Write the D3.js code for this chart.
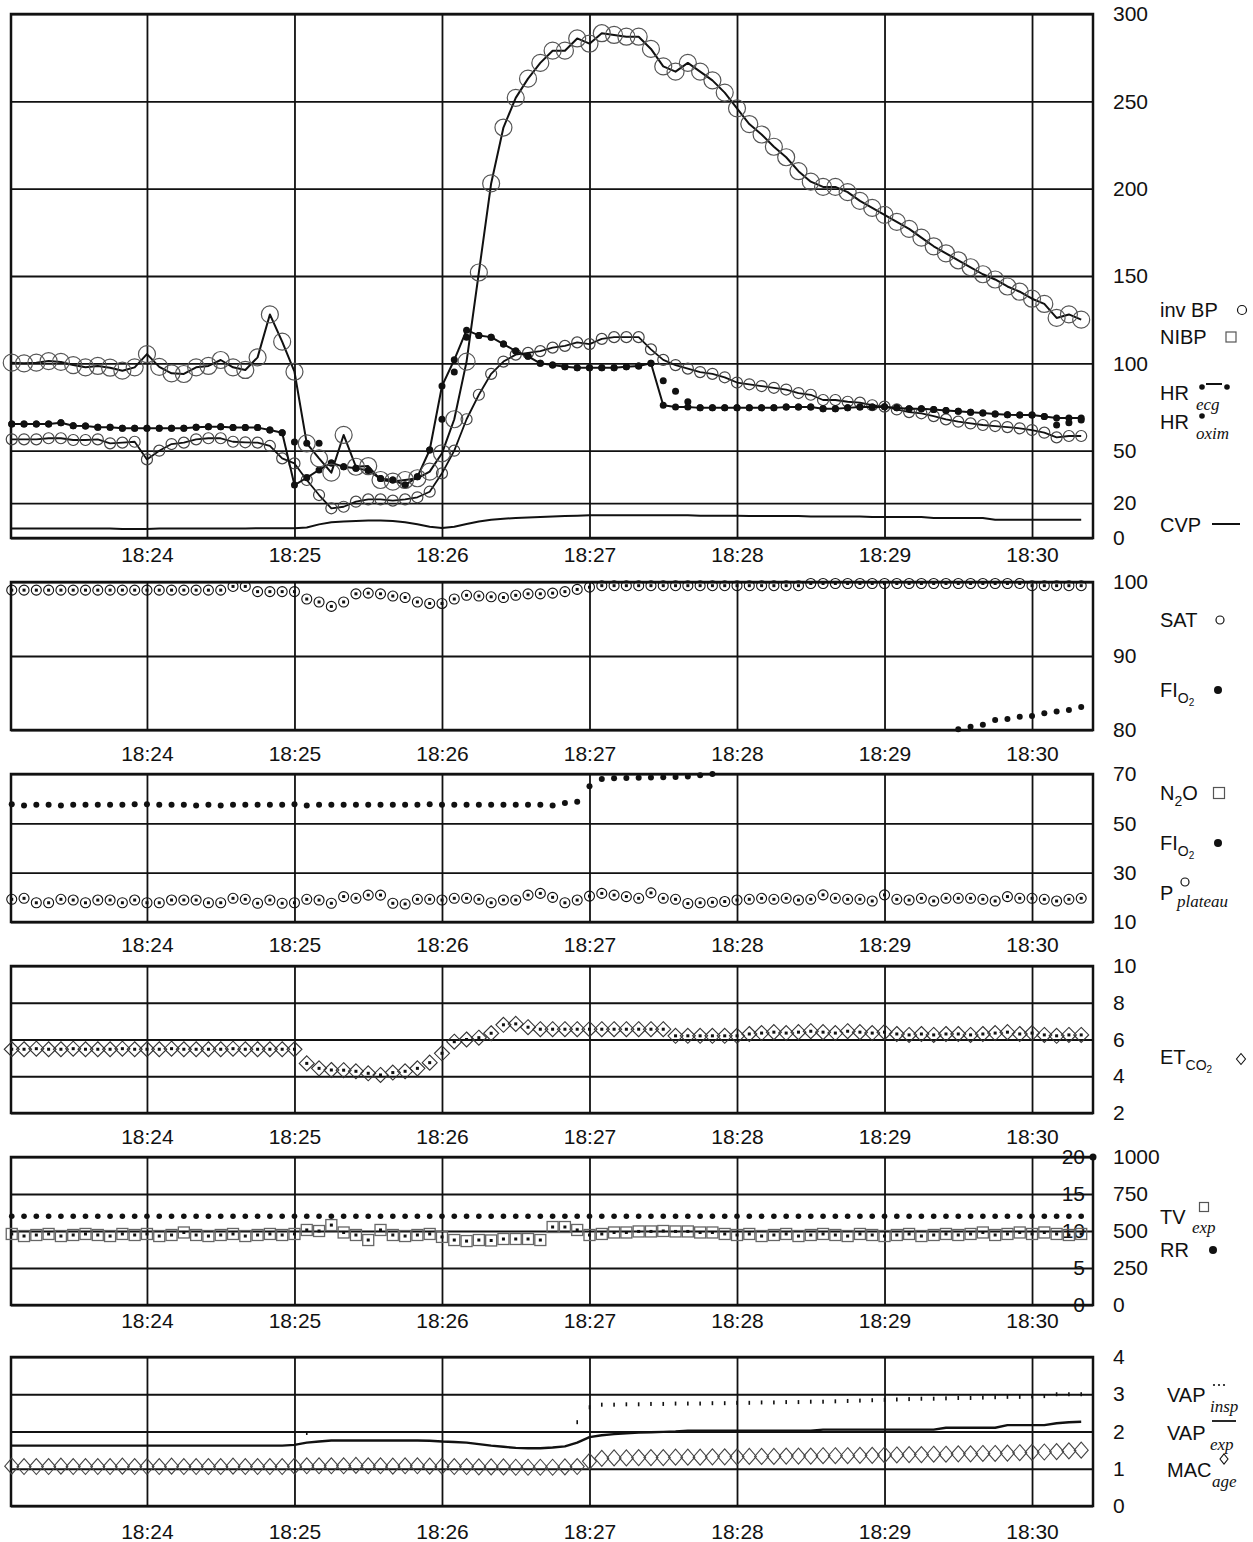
<!DOCTYPE html>
<html>
<head>
<meta charset="utf-8">
<script src="https://cdn.jsdelivr.net/npm/d3@7"></script>
<style>
  body { margin: 0; background: #fff; }
</style>
</head>
<body>
<svg id="chart" width="1253" height="1542"></svg>
<script>
// samples every 5 s, first one at 18:23:05 (time = seconds after 18:23:00)
var minuteTicks = [60, 120, 180, 240, 300, 360, 420];
var minuteLabels = ["18:24", "18:25", "18:26", "18:27", "18:28", "18:29", "18:30"];

// panel 1
var invBP = [100.4,100,100.4,101.3,100.8,99,97.7,98.5,97.5,95.8,
  97.7,105.3,98,94.3,93.9,97.7,98.5,101.9,97.7,96.2,
  103.4,128,112.4,95.2,54.2,45.6,37.4,59,40.8,41.2,
  33.2,32.3,33.2,34.2,38,48.5,68,101,152,203,
  235,252,263,272,279,279,286,283,289,288,
  287,287,280,270,267,272,267,262,255,246,
  237,231,224,218,210,204,201,201,198,193,
  189,185,181,177,172,167,163,159,155,151,
  148,144,141,137,134,126,128,125];
var invBPdia = [56.5,56.5,56.5,57.1,57.1,56.1,56.1,56.5,54.2,54.6,
  55.1,45,50,53.8,54.6,56.5,57.1,57.1,55.1,54.8,
  54.6,52.7,45.6,42.7,33.2,24.6,17,17.9,20.8,22.1,
  22.1,21.4,22.1,23.3,26.5,37,50,68,82,94,
  101,105,106,107,109,110,112,111,114,115,
  115,115,108,102,99,97,95,94,92,89,
  88,87,86,85,83,82,79,79,78,77.5,
  76,75.2,73.6,72.1,71.4,69.8,67.9,66.6,65.6,64.7,
  64.1,63.5,62.8,61.8,60.3,57.6,58.4,58.4];
var hrEcg = [65.3,65.3,65.3,65.3,66,64.3,64.1,63.4,63.4,62.8,
  62.8,62.8,62.8,62.8,62.8,63.4,63.7,63.7,63.2,63.2,
  63.2,61.8,60.3,30.3,34.5,39,43,40.8,40,38.7,
  34,33.2,30.3,35,50.4,87,102,119,116,115,
  111,107,104,100,99,98,97.5,97.5,97.5,97.5,
  98,98.5,100,76,75,75,74.5,74.5,74.5,74.5,
  74.5,74.5,74.5,75,75,75,74,74,74.5,75,
  75,75.2,74.5,74,74,73.5,73,72.5,72,71.5,
  71,70.5,70.4,70.4,69.5,68.7,68.7,68.7];
var hrOxim = [65.3,65.3,65.3,65.3,66,64.3,64.1,63.4,63.4,62.8,
  62.8,62.8,62.8,62.8,62.8,63.4,63.7,63.7,63.2,63.2,
  63.2,61.8,60.3,55,54.2,54.2,43,40.8,40,38.7,
  34,33.2,30.3,35,50.4,68,95,115,116,115,
  111,107,104,100,99,98,97.5,97.5,97.5,97.5,
  98,98.5,100,90,84,78,74.5,74.5,74.5,74.5,
  74.5,74.5,74.5,75,75,75,74,74,74.5,75,
  75,75.2,74.5,74,74,73.5,73,72.5,72,71.5,
  71,70.5,70.4,70.4,69.5,64.7,66,67.5];
var cvp = [5.5,5.5,5.5,5.5,5.5,5.5,5.5,5.5,5.5,5.2,
  5.2,5.2,5.5,5.5,5.5,5.5,5.5,5.5,5.5,5.5,
  5.6,5.6,5.6,5.6,6,7.8,9,9.4,9.8,10,
  10,9.8,9,7.9,6.5,5.7,6.5,8,9.5,10.5,
  11,11.5,11.8,12,12.3,12.6,12.8,13,13,13,
  13,13,13,13,13,13,12.8,12.8,12.8,12.8,
  12.6,12.6,12.6,12.6,12.6,12.3,12.3,12.3,12.3,12.3,
  12,12,12,12,12,11.5,11.5,11.5,11.5,11.5,
  10.5,10.5,10.5,10.5,10.5,10.5,10.5,10.5];

// panel 2 and 3
var sat = [98.9,98.9,98.9,98.9,98.9,98.9,98.9,98.9,98.9,98.9,
  98.9,98.9,98.9,98.9,98.9,98.9,98.9,98.9,99.4,99.4,
  98.7,98.7,98.7,98.7,97.7,97.3,96.7,97.3,98.4,98.5,
  98.4,98.1,97.9,97.3,97.1,97.1,97.7,98.2,98.1,98,
  97.9,98.2,98.4,98.4,98.5,98.7,99,99.3,99.5,99.5,
  99.5,99.5,99.5,99.5,99.5,99.5,99.5,99.5,99.5,99.5,
  99.5,99.5,99.5,99.5,99.5,99.8,99.8,99.8,99.8,99.8,
  99.8,99.8,99.8,99.8,99.8,99.8,99.8,99.8,99.8,99.8,
  99.8,99.8,99.8,99.5,99.5,99.5,99.5,99.5];
var fio2 = [57.7,57.2,57.5,57.5,57.2,57.5,57.5,57.5,57.5,57.5,
  57.7,57.7,57.5,57.5,57.5,57.2,57.5,57.2,57.5,57.5,
  57.5,57.5,57.5,57.7,57.2,57.5,57.5,57.5,57.5,57.5,
  57.5,57.5,57.5,57.5,57.7,57.5,57.5,57.5,57.5,57.5,
  57.5,57.5,57.5,57.5,57.2,58.2,58.8,65,68,68.3,
  68.4,68.5,68.6,68.7,68.8,69,69.5,70,null,null,
  null,null,null,null,null,null,null,null,null,null,
  null,null,null,null,null,null,null,80.1,80.45,80.7,
  81.35,81.5,81.8,81.9,82.25,82.5,82.7,83.1];
var plateau = [19.2,19.6,17.8,17.8,19.2,18.9,17.8,18.9,18.9,17.8,
  18.9,17.8,17.8,18.9,18.9,18.9,17.8,17.8,19.6,19.2,
  17.6,18.9,17.6,17.8,19.2,18.9,17.6,20.3,19.6,20.9,
  20.9,17.6,17.3,19.2,19.2,18.9,19.6,19.6,19.2,17.8,
  18.9,18.9,20.9,21.6,20,17.8,18.9,20.5,21.6,20.9,
  20.3,19.6,21.8,19.6,19.2,17.5,17.8,18,18.3,18.9,
  19.2,19.6,19.2,19.6,18.9,19.2,21,19.6,19.2,19.2,
  18.5,21,19.2,18.9,19.6,18.5,19.6,19.6,19.6,19.2,
  18.5,20.3,19.6,19.6,19.2,18.5,19.2,19.6];

// panel 4
var etco2 = [5.47,5.47,5.5,5.47,5.47,5.5,5.47,5.47,5.47,5.5,
  5.47,5.47,5.47,5.5,5.47,5.47,5.47,5.47,5.5,5.47,
  5.47,5.47,5.47,5.47,4.7,4.43,4.34,4.33,4.27,4.16,
  4.07,4.2,4.27,4.43,4.74,5.25,5.88,6,6.1,6.34,
  6.8,6.85,6.67,6.56,6.56,6.56,6.56,6.56,6.56,6.56,
  6.56,6.56,6.56,6.56,6.2,6.2,6.2,6.2,6.2,6.2,
  6.3,6.35,6.4,6.35,6.4,6.45,6.4,6.35,6.45,6.4,
  6.35,6.4,6.3,6.25,6.3,6.25,6.3,6.3,6.25,6.3,
  6.35,6.4,6.3,6.35,6.25,6.2,6.25,6.25];

// panel 5
var tvExp = [480,466,473,480,466,473,480,473,466,480,
  473,480,466,473,490,473,466,473,480,466,
  473,480,473,480,507,500,540,490,473,439,
  507,473,466,473,480,460,439,432,439,436,
  446,446,446,439,527,527,507,473,480,490,
  490,497,497,500,497,497,490,490,480,473,
  480,466,473,480,466,473,480,473,466,480,
  473,466,473,480,466,473,480,473,480,490,
  473,480,490,480,490,480,473,480];
var rr = [12,12,12,12,12,12,12,12,12,12,
  12,12,12,12,12,12,12,12,12,12,
  12,12,12,12,12,12,12,12,12,12,
  12,12,12,12,12,12,12,12,12,12,
  12,12,12,12,12,12,12,12,12,12,
  12,12,12,12,12,12,12,12,12,12,
  12,12,12,12,12,12,12,12,12,12,
  12,12,12,12,12,12,12,12,12,12,
  12,12,12,12,12,12,12,12];

// panel 6
var macAge = [1.07,1.06,1.06,1.06,1.07,1.06,1.06,1.06,1.06,1.07,
  1.06,1.06,1.06,1.07,1.06,1.06,1.06,1.06,1.07,1.06,
  1.06,1.06,1.06,1.07,1.08,1.08,1.08,1.08,1.09,1.08,
  1.08,1.07,1.08,1.08,1.07,1.07,1.06,1.06,1.05,1.05,
  1.05,1.04,1.04,1.04,1.04,1.05,1.06,1.2,1.28,1.29,
  1.29,1.3,1.3,1.3,1.31,1.31,1.31,1.32,1.32,1.32,
  1.33,1.33,1.33,1.34,1.34,1.34,1.35,1.35,1.35,1.36,
  1.36,1.37,1.37,1.38,1.38,1.39,1.39,1.4,1.4,1.41,
  1.41,1.42,1.43,1.44,1.45,1.46,1.48,1.5];
var vapExp = [1.62,1.62,1.62,1.62,1.62,1.62,1.62,1.62,1.62,1.62,
  1.62,1.62,1.62,1.62,1.62,1.62,1.62,1.62,1.62,1.62,
  1.62,1.62,1.62,1.64,1.7,1.73,1.76,1.76,1.76,1.76,
  1.76,1.76,1.76,1.76,1.75,1.73,1.72,1.7,1.66,1.62,
  1.59,1.56,1.55,1.55,1.57,1.6,1.7,1.85,1.9,1.93,
  1.95,1.97,1.98,1.99,2,2.02,2.02,2.02,2.02,2.02,
  2.02,2.02,2.02,2.02,2.02,2.02,2.05,2.05,2.05,2.05,
  2.05,2.05,2.05,2.05,2.05,2.05,2.1,2.1,2.1,2.1,
  2.1,2.17,2.17,2.17,2.17,2.22,2.25,2.26];
var vapInsp = [null,null,null,null,null,null,null,null,null,null,
  null,null,null,null,null,null,null,null,null,null,
  null,null,null,null,1.96,null,null,null,null,null,
  null,null,null,null,null,null,null,null,null,null,
  null,null,null,null,null,null,2.25,2.65,2.72,2.72,
  2.73,2.73,2.74,2.74,2.75,2.75,2.75,2.76,2.76,2.77,
  2.77,2.78,2.78,2.79,2.79,2.8,2.8,2.81,2.82,2.83,
  2.84,2.85,2.86,2.87,2.88,2.88,2.89,2.9,2.9,2.91,
  2.92,2.93,2.93,2.94,2.95,3,3,3];

var sampleTimes = d3.range(invBP.length).map(function(i) { return 5 + 5 * i; });

var FONT = "'Liberation Sans', Arial, Helvetica, sans-serif";
var SERIF = "'Liberation Serif', 'Times New Roman', serif";
var INK = "#111";

var svg = d3.select("#chart");
var x = d3.scaleLinear().domain([4.7, 444.8]).range([11, 1093]);

// build one panel: grid, border, time labels below, value labels on the right
function makePanel(top, bottom, domain, ticks, gap) {
  var y = d3.scaleLinear().domain(domain).range([bottom, top]);
  var g = svg.append("g");
  var gx = g.append("g")
    .attr("transform", "translate(0," + bottom + ")")
    .call(d3.axisBottom(x).tickValues(minuteTicks)
      .tickFormat(function(d, i) { return minuteLabels[i]; })
      .tickSize(-(bottom - top)).tickPadding(gap));
  var gy = g.append("g")
    .attr("transform", "translate(" + x.range()[1] + ",0)")
    .call(d3.axisRight(y).tickValues(ticks).tickFormat(function(d) { return String(d); })
      .tickSize(-(x.range()[1] - x.range()[0])).tickPadding(20));
  [gx, gy].forEach(function(a) {
    a.select(".domain").remove();
    a.selectAll("line").attr("stroke", INK).attr("stroke-width", 1.8);
    a.selectAll("text").attr("font-size", 21).attr("font-family", FONT).attr("fill", INK);
  });
  g.append("rect")
    .attr("x", x.range()[0]).attr("y", top)
    .attr("width", x.range()[1] - x.range()[0]).attr("height", bottom - top)
    .attr("fill", "none").attr("stroke", INK).attr("stroke-width", 2.5);
  return { g: g, y: y };
}

function pts(vals, y) {
  var dom = y.domain();
  return vals.map(function(v, i) { return { t: sampleTimes[i], v: v }; })
    .filter(function(d) { return d.v != null && d.v >= dom[0] && d.v <= dom[1]; });
}

function drawLine(p, vals, width, color) {
  var line = d3.line()
    .defined(function(d) { return d.v != null; })
    .x(function(d) { return x(d.t); })
    .y(function(d) { return p.y(d.v); });
  p.g.append("path")
    .datum(vals.map(function(v, i) { return { t: sampleTimes[i], v: v }; }))
    .attr("d", line).attr("fill", "none")
    .attr("stroke", color).attr("stroke-width", width).attr("stroke-linejoin", "round");
}

function drawCircles(p, vals, r, color, width) {
  p.g.append("g").selectAll("circle").data(pts(vals, p.y)).join("circle")
    .attr("cx", function(d) { return x(d.t); })
    .attr("cy", function(d) { return p.y(d.v); })
    .attr("r", r).attr("fill", "none").attr("stroke", color).attr("stroke-width", width);
}

function drawDots(p, vals, r) {
  p.g.append("g").selectAll("circle").data(pts(vals, p.y)).join("circle")
    .attr("cx", function(d) { return x(d.t); })
    .attr("cy", function(d) { return p.y(d.v); })
    .attr("r", r).attr("fill", INK);
}

function drawSquares(p, vals, s, color, width, filled) {
  p.g.append("g").selectAll("rect").data(pts(vals, p.y)).join("rect")
    .attr("x", function(d) { return x(d.t) - s / 2; })
    .attr("y", function(d) { return p.y(d.v) - s / 2; })
    .attr("width", s).attr("height", s)
    .attr("fill", filled ? INK : "none")
    .attr("stroke", filled ? "none" : color).attr("stroke-width", width);
}

function drawDiamonds(p, vals, w, h, color) {
  p.g.append("g").selectAll("path").data(pts(vals, p.y)).join("path")
    .attr("d", function(d) {
      var cx = x(d.t), cy = p.y(d.v);
      return "M" + cx + "," + (cy - h) + "L" + (cx + w) + "," + cy + "L" + cx + "," + (cy + h) + "L" + (cx - w) + "," + cy + "Z";
    })
    .attr("fill", "none").attr("stroke", color).attr("stroke-width", 1.1);
}

function drawTicks(p, vals) {
  p.g.append("g").selectAll("rect").data(pts(vals, p.y)).join("rect")
    .attr("x", function(d) { return x(d.t) - 0.8; })
    .attr("y", function(d) { return p.y(d.v) - 2; })
    .attr("width", 1.6).attr("height", 4).attr("fill", INK);
}

// ---- panels ----
var p1 = makePanel(14, 538, [0, 300], [0, 20, 50, 100, 150, 200, 250, 300], 9.5);
drawLine(p1, cvp, 2, INK);
drawLine(p1, invBPdia, 1.8, INK);
drawCircles(p1, invBPdia, 5.5, "#444", 1.2);
drawLine(p1, hrEcg, 2, INK);
drawDots(p1, hrOxim, 3.5);
drawDots(p1, hrEcg, 3.5);
drawLine(p1, invBP, 2, INK);
drawCircles(p1, invBP, 8.5, "#555", 1.2);

var p2 = makePanel(582, 730, [80, 100], [80, 90, 100], 16.5);
drawCircles(p2, sat, 5, INK, 1.1);
drawSquares(p2, sat, 3, INK, 0, true);
drawDots(p2, fio2, 3);

var p3 = makePanel(774, 922, [10, 70], [10, 30, 50, 70], 15);
drawDots(p3, fio2, 3);
drawCircles(p3, plateau, 5, INK, 1.1);
drawSquares(p3, plateau, 3, INK, 0, true);

var p4 = makePanel(966, 1113, [2, 10], [2, 4, 6, 8, 10], 16.5);
drawDiamonds(p4, etco2, 7.5, 7.5, "#333");
drawSquares(p4, etco2, 3, INK, 0, true);

var p5 = makePanel(1157, 1305, [0, 1000], [0, 250, 500, 750, 1000], 8);
var yRR = d3.scaleLinear().domain([0, 20]).range([1305, 1157]);
var gRR = p5.g.append("g").attr("transform", "translate(" + x.range()[1] + ",0)")
  .call(d3.axisLeft(yRR).tickValues([0, 5, 10, 15, 20]).tickSize(0).tickPadding(8));
gRR.select(".domain").remove();
gRR.selectAll("text").attr("font-size", 21).attr("font-family", FONT).attr("fill", INK);
drawDots({ g: p5.g, y: yRR }, rr, 2.8);
drawSquares(p5, tvExp, 11, "#666", 1.3, false);
drawSquares(p5, tvExp, 3, INK, 0, true);
p5.g.append("circle").attr("cx", x.range()[1]).attr("cy", yRR(20)).attr("r", 3.5).attr("fill", INK);

var p6 = makePanel(1357, 1506, [0, 4], [0, 1, 2, 3, 4], 18.5);
drawLine(p6, vapExp, 2.4, INK);
drawTicks(p6, vapInsp);
drawDiamonds(p6, macAge, 7, 8, "#444");

// ---- legends ----
function label(xp, yp, txt, size) {
  return svg.append("text").attr("x", xp).attr("y", yp)
    .attr("font-size", size || 20).attr("font-family", FONT).attr("fill", INK).text(txt);
}
function italicSub(xp, yp, txt) {
  return svg.append("text").attr("x", xp).attr("y", yp)
    .attr("font-size", 17).attr("font-family", SERIF).attr("font-style", "italic")
    .attr("fill", INK).text(txt);
}
function chemLabel(xp, yp, base, sub, sub2) {
  var t = svg.append("text").attr("x", xp).attr("y", yp)
    .attr("font-size", 20).attr("font-family", FONT).attr("fill", INK);
  t.append("tspan").text(base);
  t.append("tspan").attr("font-size", 14).attr("dy", 6).text(sub);
  if (sub2) t.append("tspan").attr("font-size", 10).attr("dy", 3).text(sub2);
  return t;
}
function openCircle(cx, cy, r) {
  svg.append("circle").attr("cx", cx).attr("cy", cy).attr("r", r)
    .attr("fill", "none").attr("stroke", INK).attr("stroke-width", 1.2);
}
function dot(cx, cy, r) {
  svg.append("circle").attr("cx", cx).attr("cy", cy).attr("r", r).attr("fill", INK);
}
function openSquare(cx, cy, s) {
  svg.append("rect").attr("x", cx - s / 2).attr("y", cy - s / 2).attr("width", s).attr("height", s)
    .attr("fill", "none").attr("stroke", "#555").attr("stroke-width", 1.2);
}
function openDiamond(cx, cy, w, h) {
  svg.append("path").attr("d", "M" + cx + "," + (cy - h) + "L" + (cx + w) + "," + cy + "L" + cx + "," + (cy + h) + "L" + (cx - w) + "," + cy + "Z")
    .attr("fill", "none").attr("stroke", INK).attr("stroke-width", 1.1);
}
function dash(x1, x2, yy, w) {
  svg.append("line").attr("x1", x1).attr("x2", x2).attr("y1", yy).attr("y2", yy)
    .attr("stroke", INK).attr("stroke-width", w || 2);
}

// panel 1
label(1160, 317, "inv BP"); openCircle(1242, 310, 4.5);
label(1160, 344, "NIBP"); openSquare(1231, 337, 10);
label(1160, 400, "HR"); dot(1202, 387, 2.8); dash(1206, 1222, 384, 2); dot(1227, 387, 2.8);
italicSub(1196, 410, "ecg");
label(1160, 429, "HR"); dot(1202, 416, 2.8);
italicSub(1196, 439, "oxim");
label(1160, 532, "CVP"); dash(1212, 1240, 524, 2);

// panel 2
label(1160, 627, "SAT"); openCircle(1220, 620, 4);
chemLabel(1160, 697, "FI", "O", "2"); dot(1218, 690, 4);

// panel 3
chemLabel(1160, 800, "N", "2", null).append("tspan").attr("dy", -6).text("O");
openSquare(1219, 793, 11);
chemLabel(1160, 850, "FI", "O", "2"); dot(1218, 843, 4);
label(1160, 900, "P"); openCircle(1185, 882, 4);
italicSub(1177, 907, "plateau");

// panel 4
chemLabel(1160, 1064, "ET", "CO", "2"); openDiamond(1241, 1059, 4.5, 5.5);

// panel 5
label(1160, 1224, "TV"); openSquare(1204, 1207, 9);
italicSub(1192, 1233, "exp");
label(1160, 1257, "RR"); dot(1213, 1250, 4);

// panel 6
label(1167, 1402, "VAP");
dot(1214, 1385, 1.1); dot(1219, 1385, 1.1); dot(1224, 1385, 1.1);
italicSub(1210, 1412, "insp");
label(1167, 1440, "VAP"); dash(1212, 1236, 1421, 1.8);
italicSub(1210, 1450, "exp");
label(1167, 1477, "MAC"); openDiamond(1224, 1459, 4, 5);
italicSub(1212, 1487, "age");
</script>
</body>
</html>
